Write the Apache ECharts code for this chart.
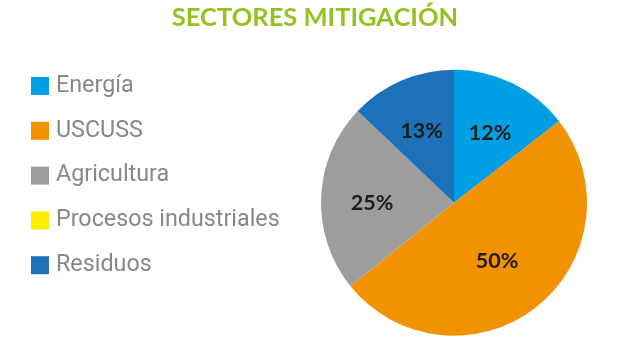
<!DOCTYPE html>
<html><head><meta charset="utf-8">
<script src="https://cdn.jsdelivr.net/npm/echarts@6/dist/echarts.min.js"></script>
<style>html,body{margin:0;padding:0;background:#fff}#c{width:630px;height:348px}</style>
</head><body><div id="c"></div>
<script>
const categories = ['Energía', 'USCUSS', 'Agricultura', 'Procesos industriales', 'Residuos'];
const values = [14.5, 49.7, 22.9, 0, 12.9];
const labelTexts = ['12%', '50%', '25%', '', '13%'];
const colors = ['#009FE3', '#F39200', '#9D9D9C', '#FFED00', '#1D71B8'];
const farLabel = [true, false, true, false, true];

const chart = echarts.init(document.getElementById('c'));
const labelStyle = {fontFamily: 'Lato', fontWeight: 'bold', fontSize: 21.5, color: '#1d1d1b', offset: [0, 4]};
chart.setOption({
  animation: false,
  title: {text: 'SECTORES MITIGACIÓN', left: 'center', top: 0,
    textStyle: {fontFamily: 'Lato', fontWeight: 'bold', fontSize: 25.5, color: '#95C11F'}},
  legend: {orient: 'vertical', left: 26, top: 69.5, itemWidth: 18, itemHeight: 18, itemGap: 21.8,
    icon: 'rect', data: categories,
    textStyle: {fontFamily: 'Roboto', fontSize: 23.3, color: '#878787', padding: [0, 0, 0, 2]}},
  series: [{
    type: 'pie', center: [454, 202.7], radius: [0, 133], startAngle: 90, clockwise: true,
    silent: true, itemStyle: {borderWidth: 0},
    label: Object.assign({position: 'inside', formatter: p => labelTexts[p.dataIndex]}, labelStyle),
    labelLine: {show: false},
    data: categories.map((n, i) => ({name: n, value: values[i], itemStyle: {color: colors[i]},
      label: {show: !farLabel[i]}}))
  }, {
    type: 'pie', center: [454, 202.7], radius: [0, 158], startAngle: 90, clockwise: true,
    silent: true, itemStyle: {color: 'rgba(0,0,0,0)', borderWidth: 0},
    label: Object.assign({position: 'inside', formatter: p => labelTexts[p.dataIndex]}, labelStyle),
    labelLine: {show: false},
    data: categories.map((n, i) => ({name: n, value: values[i], label: {show: farLabel[i]}}))
  }]
});
</script></body></html>
